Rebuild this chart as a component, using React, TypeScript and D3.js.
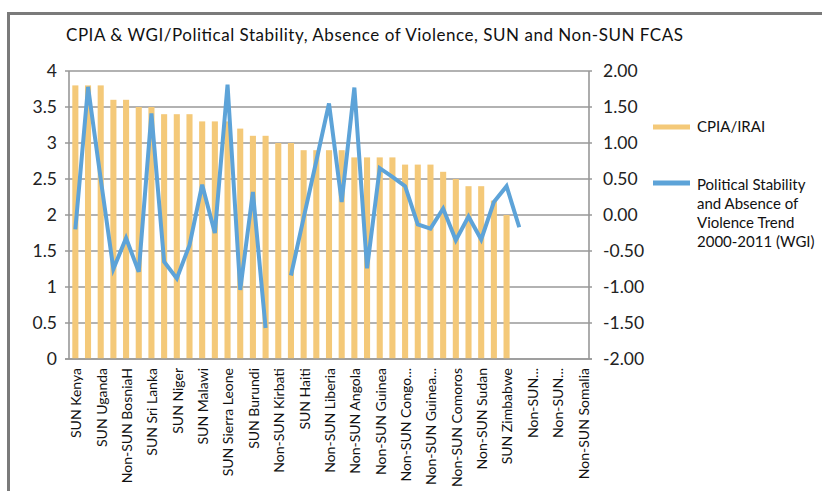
import React from "react";
import * as d3 from "d3";

const categories: string[] = [
  "SUN Kenya", "SUN Nepal", "SUN Uganda", "Non-SUN Kosovo", "Non-SUN BosniaH",
  "Non-SUN Georgia", "SUN Sri Lanka", "Non-SUN Tonga", "SUN Niger", "SUN Mali",
  "SUN Malawi", "Non-SUN Togo", "SUN Sierra Leone", "Non-SUN Timor", "SUN Burundi",
  "Non-SUN Tuvalu", "Non-SUN Kirbati", "SUN Yemen", "SUN Haiti", "Non-SUN Solomon",
  "Non-SUN Liberia", "SUN Côte d'Ivoire", "Non-SUN Angola", "Non-SUN Chad", "Non-SUN Guinea",
  "Non-SUN Afghanistan", "Non-SUN Congo...", "Non-SUN CAR", "Non-SUN Guinea...", "Non-SUN Eritrea",
  "Non-SUN Comoros", "Non-SUN Myanmar", "Non-SUN Sudan", "Non-SUN South Sudan", "SUN Zimbabwe",
  "Non-SUN Iraq", "Non-SUN...", "Non-SUN Libya", "Non-SUN... ", "Non-SUN West Bank",
  "Non-SUN Somalia",
];

const cpia: (number | null)[] = [
  3.8, 3.8, 3.8, 3.6, 3.6, 3.5, 3.5, 3.4, 3.4, 3.4,
  3.3, 3.3, 3.3, 3.2, 3.1, 3.1, 3.0, 3.0, 2.9, 2.9,
  2.9, 2.9, 2.8, 2.8, 2.8, 2.8, 2.7, 2.7, 2.7, 2.6,
  2.5, 2.4, 2.4, 2.2, 2.0, null, null, null, null, null,
  null,
];

const wgi: (number | null)[] = [
  -0.2, 1.78, 0.5, -0.75, -0.32, -0.79, 1.41, -0.65, -0.88, -0.42,
  0.42, -0.25, 1.81, -1.04, 0.32, -1.57, null, -0.84, -0.04, 0.75,
  1.55, 0.18, 1.77, -0.74, 0.65, 0.53, 0.4, -0.13, -0.19, 0.09,
  -0.35, -0.02, -0.34, 0.18, 0.4, -0.17, null, null, null, null,
  null,
];

const leftTicks: number[] = [0, 0.5, 1, 1.5, 2, 2.5, 3, 3.5, 4];
const rightTicks: number[] = [-2, -1.5, -1, -0.5, 0, 0.5, 1, 1.5, 2];

const title = "CPIA & WGI/Political Stability, Absence of Violence, SUN and Non-SUN FCAS";
const legendCpia = "CPIA/IRAI";
const legendWgi = ["Political Stability", "and Absence of", "Violence Trend", "2000-2011  (WGI)"];

const W = 822;
const H = 491;
const plot = { left: 69, right: 589, top: 71, bottom: 359 };
const FONT = "Lato, 'Open Sans', sans-serif";
const BAR = "#F4C979";
const LINE = "#5DA3D8";
const GRID = "#989898";

export default function App() {
  const x = d3.scaleBand<string>().domain(categories).range([plot.left, plot.right]).paddingInner(0.52).paddingOuter(0.26);
  const xc = (c: string) => (x(c) as number) + x.bandwidth() / 2;
  const yL = d3.scaleLinear().domain([0, 4]).range([plot.bottom, plot.top]);
  const yR = d3.scaleLinear().domain([-2, 2]).range([plot.bottom, plot.top]);
  const bw = x.bandwidth();

  const line = d3
    .line<number | null>()
    .defined((d) => d !== null)
    .x((_, i) => xc(categories[i]))
    .y((d) => yR(d as number));

  return (
    <div style={{ position: "fixed", left: 0, top: 0, width: W, height: H, background: "#fff" }}>
      <svg width={W} height={H} style={{ display: "block" }} fontFamily={FONT}>
        <rect x={0} y={0} width={W} height={H} fill="#fff" />
        <path d={`M8.5,${H + 5}V13.5H${W + 5}`} fill="none" stroke="#7a7a7a" strokeWidth={3} />
        <text x={66} y={41} fontSize={17} textLength={617} lengthAdjust="spacing" fill="#111">{title}</text>

        {leftTicks.map((t) => (
          <g key={"g" + t}>
            <line x1={plot.left - 4} x2={plot.right + 3} y1={yL(t)} y2={yL(t)} stroke={GRID} strokeWidth={1.6} />
            <text x={57} y={yL(t)} dy="0.35em" textAnchor="end" fontSize={17.5} fill="#222">{String(t)}</text>
          </g>
        ))}
        {rightTicks.map((t) => (
          <text key={"r" + t} x={603} y={yR(t)} dy="0.35em" textAnchor="start" fontSize={17.5} fill="#222">{t.toFixed(2)}</text>
        ))}
        <line x1={plot.left} x2={plot.left} y1={plot.top} y2={plot.bottom} stroke={GRID} strokeWidth={1.6} />
        <line x1={plot.right} x2={plot.right} y1={plot.top} y2={plot.bottom} stroke={GRID} strokeWidth={1.6} />

        {cpia.map((v, i) =>
          v === null ? null : (
            <rect key={"b" + i} x={x(categories[i])} y={yL(v)} width={bw} height={yL(0) - yL(v)} fill={BAR} />
          )
        )}
        <line x1={plot.left - 4} x2={plot.right + 3} y1={plot.bottom} y2={plot.bottom} stroke={GRID} strokeWidth={1.6} />

        <path d={line(wgi) || ""} fill="none" stroke={LINE} strokeWidth={4} strokeLinejoin="miter" />

        {categories.map((c, i) =>
          i % 2 === 0 ? (
            <text
              key={"x" + i}
              transform={`translate(${xc(c) + 1},368) rotate(-90)`}
              dy="0.35em"
              textAnchor="end"
              fontSize={14}
              fill="#111"
            >
              {c.trim()}
            </text>
          ) : null
        )}

        <rect x={653} y={124.5} width={37} height={5} fill={BAR} />
        <text x={697} y={127} dy="0.35em" fontSize={15} fill="#111">{legendCpia}</text>
        <rect x={653} y={180.5} width={37} height={5} fill={LINE} />
        {legendWgi.map((s, k) => (
          <text key={"l" + k} x={697} y={185 + k * 19} dy="0.35em" fontSize={15} fill="#111">{s}</text>
        ))}
      </svg>
    </div>
  );
}
